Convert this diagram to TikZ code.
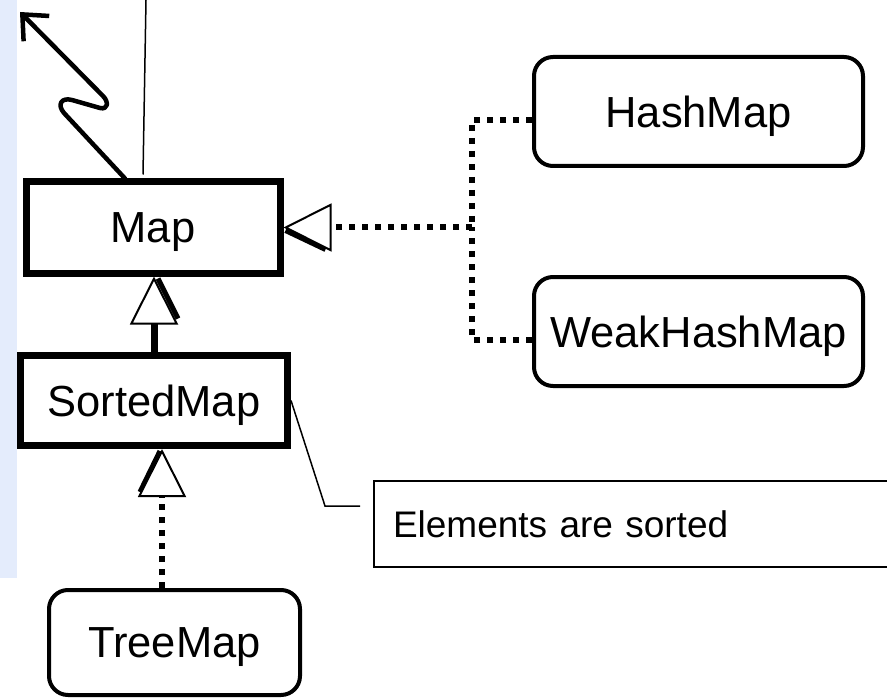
\documentclass[tikz,border=0pt]{standalone}
\usepackage{fontspec}
\setmainfont{Liberation Sans}
\usetikzlibrary{arrows.meta}
\definecolor{bandblue}{RGB}{228,236,252}
\begin{document}
\begin{tikzpicture}[x=1pt,y=-1pt,
  cls/.style={draw, line width=7pt, inner sep=0pt, text depth=0pt, font=\fontsize{43.5}{50}\selectfont},
  impl/.style={draw, line width=4pt, rounded corners=19pt, inner sep=0pt, text depth=0pt, font=\fontsize{43.5}{50}\selectfont},
  notebox/.style={draw, line width=2pt, inner xsep=19pt, inner ysep=0pt, text depth=0pt, align=left, text width=500pt, minimum height=86pt, font=\fontsize{37}{44}\selectfont},
  dotline/.style={line width=6pt, dash pattern=on 6.5pt off 6.5pt},
  gen/.style={-{Triangle[fill=white, length=48pt, width=48pt, line width=2pt]}},
  shadowline/.style={line width=5pt}
]
\useasboundingbox (0,0) rectangle (887,698);
\clip (0,0) rectangle (887,698);
\fill[bandblue] (0,0) rectangle (17,578);

% classes
\node[cls, minimum width=254pt, minimum height=91pt] (map) at (153,227.5) {Map};
\node[cls, minimum width=267pt, minimum height=90pt] (sorted) at (154,400.5) {SortedMap};
\node[impl, minimum width=251pt, minimum height=105pt] (tree) at (174.5,642.5) {TreeMap};
\node[impl, minimum width=329pt, minimum height=109pt] (hash) at (698.5,111.5) {HashMap};
\node[impl, minimum width=329pt, minimum height=109pt] (weak) at (698.5,331.5) {WeakHashMap};
\node[notebox, anchor=west] (note) at (373,524) {Elements are sorted};

% coordinates
\coordinate (j) at (472,227.5);
\coordinate (top) at (146,0);
\coordinate (lk) at (325,506);
\coordinate (le) at (360,506);

% realization to Map
\draw[dotline] ([yshift=-8.5pt]hash.west) -| (j);
\draw[dotline] ([yshift=-8.5pt]weak.west) -| (j);
\draw[shadowline] ([shift={(2pt,-3pt)}]map.east) -- ++(40,19);
\draw[dotline, gen] (j) -- (map.east);

% SortedMap -> Map
\draw[shadowline] ([shift={(4pt,-2pt)}]sorted.north |- map.south) -- ++(20,40);
\draw[line width=7pt, gen] (sorted.north) -- (sorted.north |- map.south);

% TreeMap -> SortedMap
\draw[shadowline] ([shift={(-14.5pt,-2pt)}]tree.north |- sorted.south) -- ++(-20,41);
\draw[dotline, gen] ([xshift=-12.5pt]tree.north) -- ([xshift=-12.5pt]tree.north |- sorted.south);

% wavy arrow and thin line from Map
\draw[line width=4.5pt, line join=round, line cap=round, -{Straight Barb[length=20pt,width=36pt]}]
  ([xshift=-28pt]map.north) -- (64,113) .. controls (57,105) and (61,97) .. (72,100)
  -- (100,108) .. controls (108,110) and (109,102) .. (103,96) -- (20,12);
\draw[line width=1.5pt] ([xshift=-10pt,yshift=4pt]map.north) -- (top);

% note leader
\draw[line width=1.5pt] (sorted.east) -- (lk) -- (le);
\end{tikzpicture}
\end{document}
